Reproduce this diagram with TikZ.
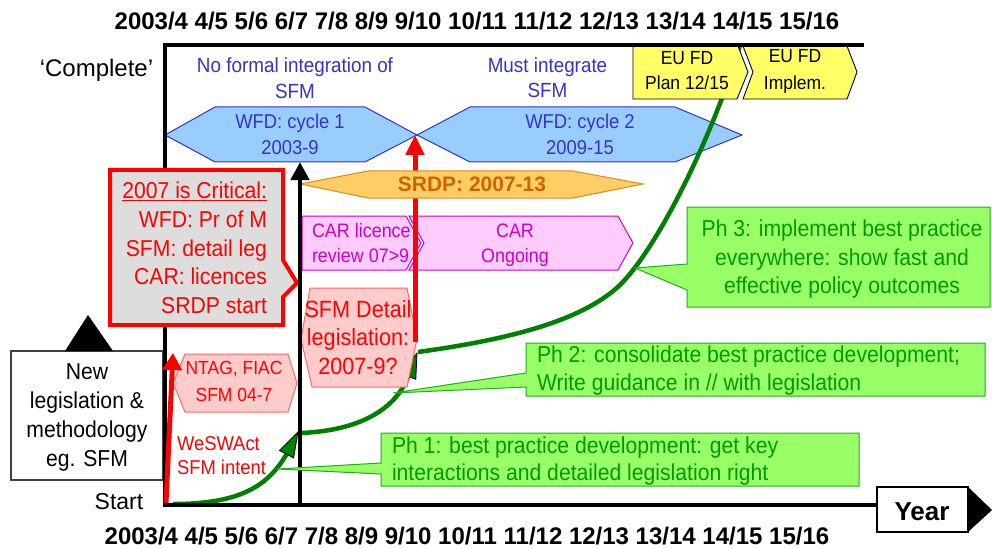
\documentclass[tikz,border=0pt]{standalone}
\usepackage{fontspec}
\setmainfont{Liberation Sans}
\newfontfamily\narfont{Liberation Sans}[FakeStretch=0.92]
\usetikzlibrary{arrows.meta}
\definecolor{wfdfill}{HTML}{99CCFF}
\definecolor{wfdline}{HTML}{3333CC}
\definecolor{srdpfill}{HTML}{FFCC66}
\definecolor{srdpline}{HTML}{D98C1A}
\definecolor{srdptext}{HTML}{CC6600}
\definecolor{carfill}{HTML}{FFCCFF}
\definecolor{carline}{HTML}{CC00CC}
\definecolor{sfmfill}{HTML}{FFCCCC}
\definecolor{sfmline}{HTML}{FF6666}
\definecolor{critfill}{HTML}{DDDDDD}
\definecolor{phfill}{HTML}{99FF66}
\definecolor{phline}{HTML}{22AA22}
\definecolor{phtext}{HTML}{009900}
\definecolor{eufill}{HTML}{FFFF66}
\definecolor{curvegreen}{HTML}{008000}
\definecolor{boxgray}{HTML}{404040}
\newcommand\myfs[2]{\fontsize{#1}{#2}\selectfont}
\begin{document}
\begin{tikzpicture}[x=1pt,y=-1pt,line join=miter,
  txt/.style={inner sep=0pt,outer sep=0pt,align=center,execute at begin node=\strut,execute at end node=\strut},
  wfd/.style={fill=wfdfill,draw=wfdline,line width=1pt},
  srdp/.style={fill=srdpfill,draw=srdpline,line width=1pt},
  car/.style={fill=carfill,draw=carline,line width=1pt},
  sfm/.style={fill=sfmfill,draw=sfmline,line width=1pt},
  ph/.style={fill=phfill,draw=phline,line width=1pt},
  eu/.style={fill=eufill,draw=black,line width=0.9pt},
  gcurve/.style={draw=curvegreen,line width=4.5pt},
  ghead/.style={fill=curvegreen,draw=black,line width=0.8pt,line join=miter},
  axisline/.style={line width=3.5pt},
  bluetxt/.style={txt,text=wfdline,font=\narfont\myfs{20}{26}},
  redtxt/.style={txt,text=red,font=\narfont\myfs{23}{28.5}},
  cartxt/.style={txt,text=carline,font=\narfont\myfs{19.5}{25}},
  eutxt/.style={txt,text=black,font=\narfont\myfs{19}{25}},
  phtxt/.style={txt,text=phtext,font=\narfont\myfs{23}{28.5}},
  yeartxt/.style={txt,font=\bfseries\myfs{24}{28.8}}
]
\useasboundingbox (0,0) rectangle (992,548);
\fill[white] (0,0) rectangle (992,548);

% New legislation box
\draw[fill=white,draw=boxgray,line width=1.5pt] (11,351) rectangle (163,480);
\fill[black] (65,351) -- (88,315) -- (113,351) -- cycle;
\node[txt,font=\narfont\myfs{23}{29}] (newleg) at (87,419) {New\\legislation \&\\methodology\\eg. SFM};

% WFD hexagons
\draw[wfd] (165,135) -- (215,107) -- (365,107) -- (417,135) -- (365,162) -- (215,162) -- cycle;
\draw[wfd] (417,135) -- (470,107) -- (675,107) -- (742,135) -- (675,162) -- (470,162) -- cycle;
\node[bluetxt] (wfdone) at (290,138) {WFD: cycle 1\\2003-9};
\node[bluetxt] (wfdtwo) at (580,138) {WFD: cycle 2\\2009-15};

% CAR shapes
\draw[car] (302,216) -- (406,216) -- (421,243) -- (406,270) -- (302,270) -- cycle;
\node[cartxt,anchor=west,align=left] (carlic) at (312,246.5) {CAR licence\\review 07>9};
\draw[car] (409,216) -- (618,216) -- (633,243) -- (618,270) -- (409,270) -- (424,243) -- cycle;
\node[cartxt] (carong) at (515,246.5) {CAR\\Ongoing};

% green curves with arrowheads
\draw[gcurve] (173,504) .. controls (240,504) and (268,486) .. (286.5,454.2);
\draw[ghead] (298,432) -- (293.6,457.9) -- (279.4,450.5) -- cycle;
\draw[gcurve] (301,433) .. controls (350,431) and (393,415) .. (408.3,376.5);
\draw[ghead] (417,353) -- (415.8,379.3) -- (400.7,373.7) -- cycle;
\draw[gcurve] (418,352) .. controls (520,338) and (585,318) .. (620,285)
  .. controls (660,245) and (715,130) .. (740,45);

% SFM detail and NTAG hexagons
\draw[sfm] (310,288) -- (407,288) -- (417,339) -- (407,387) -- (312,387) -- (301,339) -- cycle;
\node[redtxt,font=\narfont\myfs{23.5}{28.5}] (sfmdet) at (358,341.3) {SFM Detail\\legislation:\\2007-9?};
\draw[sfm] (185,354) -- (288,354) -- (297,383) -- (288,412) -- (185,412) -- (173,383) -- cycle;
\node[redtxt,font=\narfont\myfs{19}{27}] (ntag) at (234,385) {NTAG, FIAC\\SFM 04-7};

% red arrow at 9/10
\coordinate (redbot) at (415,342);
\coordinate (redtop) at (415,135);
\draw[red,line width=5pt,-{Triangle[length=20pt,width=18pt]}] (redbot) -- (redtop);

% SRDP
\draw[srdp] (300,184) -- (368,171) -- (573,171) -- (643,184) -- (573,198) -- (368,198) -- cycle;
\node[txt,text=srdptext,font=\bfseries\myfs{21}{25.2}] (srdp) at (472,186.5) {SRDP: 2007-13};

% EU FD boxes
\draw[eu] (633,46) -- (738,46) -- (748,72) -- (737,99) -- (633,99) -- cycle;
\node[eutxt] (euplan) at (687,74.3) {EU FD\\Plan 12/15};
\draw[eu] (743,46) -- (847,46) -- (857,72) -- (847,99) -- (743,99) -- (753,72) -- cycle;
\node[eutxt,font=\narfont\myfs{19}{27}] (euimp) at (795,74) {EU FD\\Implem.};

% axes
\coordinate (tr) at (864,45);
\coordinate (tl) at (165,45);
\coordinate (bl) at (165,505);
\coordinate (br) at (877,505);
\draw[axisline] (tr) -- (tl) -- (bl) -- (br);

% Critical callout
\draw[fill=critfill,draw=red,line width=4pt] (110,170) -- (283,170) -- (283,260) -- (297,283) -- (283,297) -- (283,325) -- (110,325) -- cycle;
\node[redtxt,anchor=east,align=right,font=\narfont\myfs{23}{28.7}] (crit) at (267,252)
  {\underline{2007 is Critical:}\\WFD: Pr of M\\SFM: detail leg\\CAR: licences\\SRDP start};

% black arrow at 6/7
\coordinate (blkbot) at (300,505);
\coordinate (blktop) at (300,162);
\draw[black,line width=4.5pt,-{Triangle[length=18pt,width=18pt]}] (blkbot) -- (blktop);

% red arrow at start
\coordinate (rsbot) at (166,503);
\coordinate (rstop) at (173,353);
\draw[red,line width=5pt,-{Triangle[length=17pt,width=19pt]}] (rsbot) -- (rstop);

% Phase callouts
\draw[ph] (687,207) -- (990,207) -- (990,307) -- (687,307) -- (687,290) -- (635,268) -- (687,264) -- cycle;
\node[phtxt] (phthree) at (842,261) {Ph 3: implement best practice\\everywhere: show fast and\\effective policy outcomes};
\draw[ph] (526,343) -- (985,343) -- (985,396) -- (526,396) -- (526,387) -- (393,393) -- (526,373) -- cycle;
\node[phtxt,anchor=west,align=left,font=\narfont\myfs{23}{28}] (phtwo) at (537,372.7) {Ph 2: consolidate best practice development;\\Write guidance in // with legislation};
\draw[ph] (381,433) -- (859,433) -- (859,486) -- (381,486) -- (381,474) -- (277,469) -- (381,463) -- cycle;
\node[phtxt,anchor=west,align=left,font=\narfont\myfs{23}{27}] (phone) at (392,462.4) {Ph 1: best practice development: get key\\interactions and detailed legislation right};

% labels
\node[yeartxt] (yrtop) at (477,24) {2003/4 4/5 5/6 6/7 7/8 8/9 9/10 10/11 11/12 12/13 13/14 14/15 15/16};
\node[yeartxt] (yrbot) at (467,538.4) {2003/4 4/5 5/6 6/7 7/8 8/9 9/10 10/11 11/12 12/13 13/14 14/15 15/16};
\node[txt,font=\myfs{24}{28.8}] (complete) at (96.5,71) {‘Complete’};
\node[txt,font=\myfs{23}{27.6}] (start) at (119,504) {Start};
\node[bluetxt,font=\narfont\myfs{20.5}{26}] (nofi) at (295,82.2) {No formal integration of\\SFM};
\node[bluetxt,font=\narfont\myfs{20.5}{25}] (must) at (547.5,81.7) {Must integrate\\SFM};
\node[redtxt,anchor=west,align=left,font=\narfont\myfs{20}{24}] (weswact) at (177,459.4) {WeSWAct\\SFM intent};

% Year box
\draw[fill=white,draw=black,line width=1.8pt] (877,487) rectangle (968,532);
\fill[black] (968,487) -- (992,510) -- (968,532) -- cycle;
\node[txt,font=\bfseries\myfs{26}{31.2}] (year) at (922,514) {Year};
\end{tikzpicture}
\end{document}
